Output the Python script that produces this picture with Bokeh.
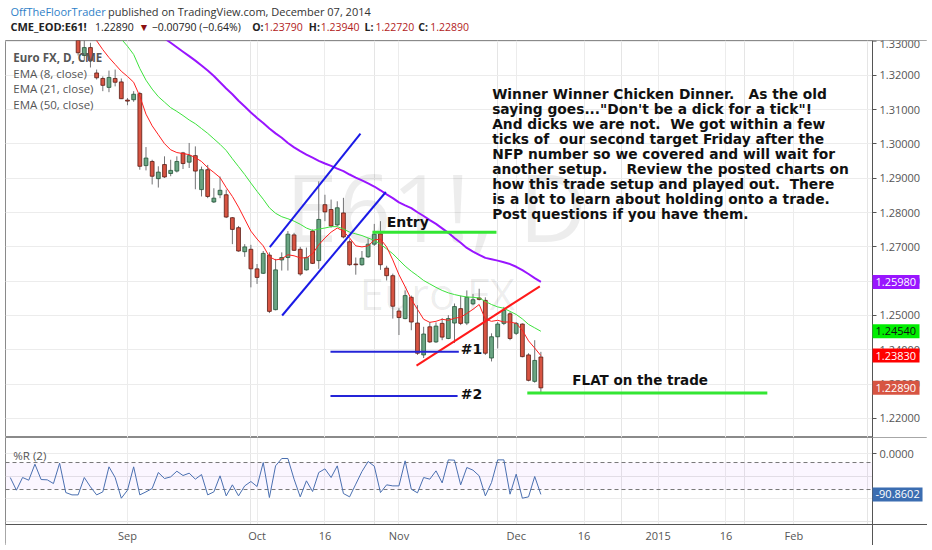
from bokeh.plotting import figure
from bokeh.models import Range1d, FixedTicker, Grid, ColumnDataSource, LinearAxis, NumeralTickFormatter
from bokeh.layouts import column
from bokeh.embed import file_html
from bokeh.resources import INLINE
from bokeh.core.properties import value

# ---------------- data ----------------
bar_index = list(range(-8, 68))
opens = [1.3330, 1.3258, 1.3281, 1.3207, 1.3191, 1.3165, 1.3191, 1.3181, 1.3128, 1.3129,
         1.3147, 1.2937, 1.2949, 1.2899, 1.2940, 1.2914, 1.2921, 1.2974, 1.2947, 1.2966,
         1.2867, 1.2925, 1.2831, 1.2852, 1.2852, 1.2785, 1.2756, 1.2686, 1.2693, 1.2636,
         1.2623, 1.2676, 1.2517, 1.2662, 1.2669, 1.2735, 1.2693, 1.2633, 1.2746, 1.2660,
         1.2823, 1.2809, 1.2764, 1.2799, 1.2715, 1.2650, 1.2648, 1.2671, 1.2708, 1.2738,
         1.2638, 1.2616, 1.2513, 1.2491, 1.2553, 1.2478, 1.2385, 1.2467, 1.2423, 1.2477,
         1.2433, 1.2478, 1.2520, 1.2478, 1.2534, 1.2551, 1.2544, 1.2376, 1.2438, 1.2477,
         1.2505, 1.2448, 1.2475, 1.2385, 1.2308, 1.2379]
highs = [1.3347, 1.3307, 1.3295, 1.3217, 1.3197, 1.3214, 1.3217, 1.3191, 1.3134, 1.3154,
         1.3152, 1.2991, 1.2954, 1.2935, 1.2964, 1.2954, 1.2964, 1.2977, 1.3003, 1.2993,
         1.2934, 1.2939, 1.2871, 1.2905, 1.2867, 1.2787, 1.2761, 1.2708, 1.2706, 1.2650,
         1.2688, 1.2684, 1.2665, 1.2684, 1.2746, 1.2741, 1.2700, 1.2698, 1.2751, 1.2891,
         1.2852, 1.2838, 1.2833, 1.2843, 1.2722, 1.2669, 1.2688, 1.2725, 1.2767, 1.2775,
         1.2645, 1.2622, 1.2521, 1.2573, 1.2558, 1.2530, 1.2467, 1.2481, 1.2480, 1.2492,
         1.2501, 1.2535, 1.2558, 1.2573, 1.2563, 1.2578, 1.2553, 1.2448, 1.2481, 1.2525,
         1.2510, 1.2481, 1.2477, 1.2390, 1.2428, 1.2394]
lows = [1.3258, 1.3243, 1.3223, 1.3188, 1.3154, 1.3151, 1.3168, 1.3131, 1.3113, 1.3123,
        1.2925, 1.2923, 1.2882, 1.2873, 1.2901, 1.2906, 1.2917, 1.2927, 1.2930, 1.2868,
        1.2847, 1.2842, 1.2828, 1.2842, 1.2784, 1.2708, 1.2686, 1.2671, 1.2582, 1.2592,
        1.2621, 1.2507, 1.2515, 1.2631, 1.2631, 1.2688, 1.2616, 1.2631, 1.2650, 1.2636,
        1.2775, 1.2756, 1.2761, 1.2725, 1.2645, 1.2619, 1.2645, 1.2668, 1.2703, 1.2633,
        1.2602, 1.2491, 1.2443, 1.2489, 1.2457, 1.2385, 1.2376, 1.2420, 1.2420, 1.2428,
        1.2431, 1.2420, 1.2472, 1.2472, 1.2530, 1.2544, 1.2385, 1.2366, 1.2404, 1.2472,
        1.2428, 1.2443, 1.2378, 1.2308, 1.2304, 1.2272]
closes = [1.3266, 1.3281, 1.3243, 1.3193, 1.3171, 1.3194, 1.3180, 1.3132, 1.3125, 1.3145,
          1.2935, 1.2959, 1.2906, 1.2918, 1.2904, 1.2923, 1.2949, 1.2943, 1.2966, 1.2921,
          1.2925, 1.2847, 1.2842, 1.2865, 1.2787, 1.2751, 1.2688, 1.2700, 1.2636, 1.2611,
          1.2681, 1.2512, 1.2633, 1.2669, 1.2737, 1.2690, 1.2621, 1.2669, 1.2652, 1.2780,
          1.2802, 1.2761, 1.2814, 1.2729, 1.2648, 1.2648, 1.2667, 1.2708, 1.2737, 1.2648,
          1.2616, 1.2527, 1.2494, 1.2558, 1.2481, 1.2390, 1.2446, 1.2423, 1.2469, 1.2437,
          1.2491, 1.2526, 1.2477, 1.2553, 1.2546, 1.2547, 1.2390, 1.2438, 1.2475, 1.2515,
          1.2433, 1.2477, 1.2380, 1.2311, 1.2369, 1.2289]

ema8 = [1.3370, 1.3345, 1.3322, 1.3301, 1.3275, 1.3252, 1.3232, 1.3212, 1.3197, 1.3180,
        1.3139, 1.3087, 1.3053, 1.3027, 1.3001, 1.2983, 1.2975, 1.2972, 1.2969, 1.2960,
        1.2949, 1.2931, 1.2917, 1.2902, 1.2873, 1.2847, 1.2816, 1.2781, 1.2746, 1.2723,
        1.2703, 1.2671, 1.2662, 1.2665, 1.2677, 1.2674, 1.2668, 1.2668, 1.2680, 1.2706,
        1.2726, 1.2743, 1.2755, 1.2746, 1.2726, 1.2703, 1.2700, 1.2703, 1.2720, 1.2723,
        1.2700, 1.2662, 1.2619, 1.2584, 1.2547, 1.2518, 1.2489, 1.2480, 1.2483, 1.2489,
        1.2486, 1.2492, 1.2495, 1.2506, 1.2518, 1.2532, 1.2489, 1.2483, 1.2486, 1.2481,
        1.2481, 1.2477, 1.2457, 1.2426, 1.2405, 1.2383]
ema21 = [1.3450, 1.3432, 1.3413, 1.3393, 1.3372, 1.3350, 1.3328, 1.3306, 1.3285, 1.3261,
         1.3220, 1.3186, 1.3160, 1.3138, 1.3122, 1.3106, 1.3095, 1.3083, 1.3070, 1.3059,
         1.3045, 1.3031, 1.3015, 1.2999, 1.2981, 1.2957, 1.2934, 1.2911, 1.2886, 1.2862,
         1.2839, 1.2814, 1.2798, 1.2788, 1.2782, 1.2775, 1.2766, 1.2755, 1.2748, 1.2752,
         1.2755, 1.2759, 1.2759, 1.2752, 1.2743, 1.2738, 1.2733, 1.2726, 1.2719, 1.2708,
         1.2694, 1.2680, 1.2662, 1.2644, 1.2629, 1.2616, 1.2602, 1.2592, 1.2582, 1.2573,
         1.2566, 1.2561, 1.2557, 1.2554, 1.2553, 1.2551, 1.2541, 1.2532, 1.2525, 1.2521,
         1.2512, 1.2503, 1.2490, 1.2474, 1.2464, 1.2454]
ema50 = [1.3440, 1.3432, 1.3424, 1.3416, 1.3407, 1.3398, 1.3390, 1.3382, 1.3375, 1.3368,
         1.3358, 1.3346, 1.3334, 1.3321, 1.3308, 1.3295, 1.3282, 1.3269, 1.3256, 1.3243,
         1.3229, 1.3214, 1.3198, 1.3180, 1.3162, 1.3145, 1.3126, 1.3109, 1.3092, 1.3076,
         1.3061, 1.3045, 1.3031, 1.3018, 1.3003, 1.2990, 1.2979, 1.2969, 1.2960, 1.2951,
         1.2943, 1.2936, 1.2928, 1.2921, 1.2911, 1.2902, 1.2894, 1.2885, 1.2876, 1.2865,
         1.2853, 1.2842, 1.2830, 1.2821, 1.2813, 1.2801, 1.2790, 1.2778, 1.2767, 1.2754,
         1.2741, 1.2726, 1.2712, 1.2697, 1.2686, 1.2677, 1.2668, 1.2664, 1.2660, 1.2655,
         1.2650, 1.2642, 1.2632, 1.2621, 1.2609, 1.2598]

wr_index = list(range(-19, 68))
wr_values = [-53.3, -81.5, -53.3, -59.3, -23.7, -57.8, -58.5, -66.7, -21.5, -86.7,
             -91.9, -91.9, -53.3, -74.1, -91.9, -85.2, -29.6, -53.3, -99.3, -81.5,
             -29.6, -91.9, -85.2, -77.8, -42.2, -55.6, -51.9, -39.3, -48.9, -43.7,
             -57.0, -46.7, -91.9, -85.2, -49.6, -94.1, -69.6, -94.1, -71.9, -62.2,
             -73.3, -20.0, -97.8, -27.4, -11.1, -11.1, -57.0, -96.3, -60.7, -84.4,
             -42.2, -34.1, -53.3, -27.4, -88.9, -96.3, -68.1, -40.0, -17.8, -28.1,
             -86.7, -69.6, -71.9, -71.9, -16.3, -79.3, -87.4, -53.3, -57.0, -38.5,
             -65.2, -14.1, -14.8, -69.6, -31.1, -37.0, -49.6, -94.1, -64.4, -14.1,
             -14.1, -90.4, -45.9, -99.3, -96.3, -51.1, -90.8602]

date_ticks = [0, 21, 32, 44, 63, 74, 86, 97, 108]
date_labels = ["Sep", "Oct", "16", "Nov", "Dec", "16", "2015", "16", "Feb"]
price_ticks = [1.22, 1.23, 1.24, 1.25, 1.26, 1.27, 1.28, 1.29, 1.30, 1.31, 1.32]
top_tick = 1.33
wr_ticks = [0, -100]
wr_levels = [-20, -80]

# drawings (bar index, price)
channel_upper_x = [23.06, 37.76]; channel_upper_y = [1.2699, 1.3030]
channel_lower_x = [25.07, 41.87]; channel_lower_y = [1.2500, 1.2860]
trend_x = [46.84, 66.83]; trend_y = [1.2354, 1.2585]
target1_x = [32.9, 53.7]; target1_y = [1.2394, 1.2394]
target2_x = [32.9, 53.5]; target2_y = [1.2265, 1.2265]
entry_x = [39.7, 59.8]; entry_y = [1.2743, 1.2743]
flat_x = [64.8, 103.7]; flat_y = [1.2274, 1.2274]

NB = "\u00a0"
note_lines = [
    "Winner Winner Chicken Dinner." + NB * 3 + "As the old",
    "saying goes...\"Don't be a dick for a tick\"!",
    "And dicks we are not." + NB * 2 + "We got within a few",
    "ticks of" + NB * 2 + "our second target Friday after the",
    "NFP number so we covered and will wait for",
    "another setup." + NB * 4 + "Review the posted charts on",
    "how this trade setup and played out." + NB * 2 + "There",
    "is a lot to learn about holding onto a trade.",
    "Post questions if you have them.",
]

last_names = ["ema50", "ema21", "ema8", "close"]
last_values = [1.2598, 1.2454, 1.2383, 1.2289]
last_bg = ["#9915ff", "#00ee00", "#ff0000", "#d75442"]
last_fg = ["white", "#111111", "white", "white"]

# ---------------- styling ----------------
W = 927
X0, XR = -19.77, 129.66      # frame spans page x 5..927
X_AX = 120.75                # price scale line (page x 872)
Y0, Y1 = 1.21443, 1.33017
WR0, WR1 = -204.4, 35.6
WR_AXIS = -157.8
AXIS_C = "#555555"
GRID_C = "#ececec"
UP_FILL, UP_LINE = "#6ba583", "#225437"
DN_FILL, DN_LINE = "#d75442", "#5b1a13"
PX = 6.17                    # pixels per bar
PY = 3430                    # pixels per price unit


def style_axis(ax, fmt=None):
    ax.major_label_text_font_size = "11px"
    ax.major_label_text_color = AXIS_C
    ax.major_label_text_font = "Open Sans"
    ax.major_tick_in = 0
    ax.minor_tick_out = 0
    ax.minor_tick_in = 0
    ax.axis_line_color = AXIS_C
    ax.major_tick_line_color = AXIS_C
    if fmt:
        ax.formatter = NumeralTickFormatter(format=fmt)


# ---------------- header ----------------
HDR_H = 37
hdr = figure(width=W, height=HDR_H, x_range=Range1d(0, W), y_range=Range1d(HDR_H, 0),
             output_backend="svg", toolbar_location=None,
             x_axis_location=None, y_axis_location=None, min_border=0,
             outline_line_color=None, background_fill_color="white", border_fill_color="white")
hdr.grid.visible = False
segs = [
    (5, 11, "OffTheFloorTrader", "#2f7fc8", "normal", "11px"),
    (103, 11, "published on TradingView.com, December 07, 2014", "#333333", "normal", "11px"),
    (5, 26, "CME_EOD:E61!", "#222222", "bold", "11px"),
    (90, 26, "1.22890", "#222222", "normal", "10.5px"),
    (134, 26, "\u25bc", "#8b1010", "normal", "10.5px"),
    (147, 26, "\u22120.00790 (\u22120.64%)", "#222222", "normal", "10.5px"),
    (248, 26, "O:", "#222222", "bold", "10.5px"),
    (260, 26, "1.23790", "#b22222", "normal", "10.5px"),
    (305, 26, "H:", "#222222", "bold", "10.5px"),
    (317, 26, "1.23940", "#b22222", "normal", "10.5px"),
    (361, 26, "L:", "#222222", "bold", "10.5px"),
    (372, 26, "1.22720", "#b22222", "normal", "10.5px"),
    (415, 26, "C:", "#222222", "bold", "10.5px"),
    (427, 26, "1.22890", "#b22222", "normal", "10.5px"),
]
for sx, sy, st, sc, sw, fs in segs:
    hdr.text(x=[sx], y=[sy], text=[st], text_font=value("Open Sans"), text_font_size=fs,
             text_color=sc, text_font_style=sw, text_baseline="middle", text_align="left")

# ---------------- price panel ----------------
price = figure(width=W, height=400, x_range=Range1d(X0, XR), y_range=Range1d(Y0, Y1),
               output_backend="svg", toolbar_location=None,
               x_axis_location=None, y_axis_location=None,
               min_border_left=5, min_border_right=0, min_border_top=3, min_border_bottom=0,
               outline_line_color="#8a8a8a", background_fill_color="white", border_fill_color="white")
price.add_layout(Grid(dimension=0, ticker=FixedTicker(ticks=date_ticks), grid_line_color=GRID_C))
price.add_layout(Grid(dimension=1, ticker=FixedTicker(ticks=price_ticks + [top_tick]),
                      grid_line_color=GRID_C))
# plain background behind the price scale
price.quad(left=[X_AX], right=[XR], bottom=[Y0], top=[Y1], fill_color="white", line_color=None)

pax = LinearAxis(fixed_location=X_AX, ticker=FixedTicker(ticks=price_ticks))
style_axis(pax, "0.00000")
pax.major_tick_out = 4
pax.major_label_standoff = 3
price.add_layout(pax, "right")
# topmost scale label, nudged inside the frame so it is not clipped
price.segment(x0=[X_AX], y0=[top_tick], x1=[X_AX + 4 / PX], y1=[top_tick], line_color=AXIS_C)
price.text(x=[X_AX + 7 / PX], y=[top_tick - 2.5 / PY], text=["%.5f" % top_tick],
           text_font=value("Open Sans"), text_font_size="11px", text_color=AXIS_C,
           text_baseline="middle", text_align="left")

# watermark
price.text(x=[25.6], y=[1.2818], text=["E61!, D"], text_font=value("Open Sans"),
           text_font_size="94px", text_color="#000000", text_alpha=0.07,
           text_baseline="middle", text_align="left")
price.text(x=[37.6], y=[1.2567], text=["Euro FX"], text_font=value("Open Sans"),
           text_font_size="44px", text_color="#000000", text_alpha=0.07,
           text_baseline="middle", text_align="left")

up = [c >= o for o, c in zip(opens, closes)]
src = ColumnDataSource(dict(
    i=bar_index, h=highs, l=lows,
    top=[max(o, c) for o, c in zip(opens, closes)],
    bottom=[min(o, c) for o, c in zip(opens, closes)],
    fill=[UP_FILL if u else DN_FILL for u in up],
    line=[UP_LINE if u else DN_LINE for u in up],
))
price.segment(x0="i", y0="h", x1="i", y1="l", source=src, line_color="#737375", line_width=1)
price.vbar(x="i", width=0.62, top="top", bottom="bottom", fill_color="fill",
           line_color="line", line_width=0.8, source=src)

price.line(bar_index, ema50, line_color="#9915ff", line_width=2)
price.line(bar_index, ema21, line_color="#3de23d", line_width=1)
price.line(bar_index, ema8, line_color="#ff2020", line_width=1)

# drawings
price.line(channel_upper_x, channel_upper_y, line_color="#1a1ae6", line_width=2)
price.line(channel_lower_x, channel_lower_y, line_color="#1a1ae6", line_width=2)
price.line(trend_x, trend_y, line_color="#ff1a1a", line_width=2)
price.line(target1_x, target1_y, line_color="#2424d8", line_width=2)
price.line(target2_x, target2_y, line_color="#2424d8", line_width=2)
price.line(entry_x, entry_y, line_color="#33e633", line_width=3)
price.line(flat_x, flat_y, line_color="#33e633", line_width=3)

TXT = dict(text_font=value("DejaVu Sans"), text_font_style="bold", text_color="#111111",
           text_baseline="middle", text_align="left")
price.text(x=[42.0], y=[1.2774], text=["Entry"], text_font_size="14px", **TXT)
price.text(x=[54.0], y=[1.2401], text=["#1"], text_font_size="14px", **TXT)
price.text(x=[54.0], y=[1.2270], text=["#2"], text_font_size="14px", **TXT)
price.text(x=[72.1], y=[1.2311], text=["FLAT on the trade"], text_font_size="13.5px", **TXT)

note_top, note_step = 1.31464, 0.004373
price.text(x=[59.1] * len(note_lines), y=[note_top - k * note_step for k in range(len(note_lines))],
           text=note_lines, text_font_size="13.8px", **TXT)

# legend
LEG = dict(text_font=value("Open Sans"), text_color="#555555", text_baseline="middle",
           text_align="left", text_font_size="11.5px")
price.text(x=[-18.5], y=[1.3252], text=["Euro FX, D, CME"], text_font_style="bold", **LEG)
price.text(x=[-18.5] * 3, y=[1.3206, 1.3162, 1.3115],
           text=["EMA (8, close)", "EMA (21, close)", "EMA (50, close)"], **LEG)

# last value boxes on the price scale
box_w = 47 / PX
box_h = 14 / PY
price.rect(x=[X_AX + box_w / 2] * 4, y=last_values, width=box_w, height=box_h,
           fill_color=last_bg, line_color=None, level="overlay")
price.text(x=[X_AX + 3 / PX] * 4, y=last_values, text=["%.5f" % v for v in last_values],
           text_color=last_fg, text_font=value("Open Sans"), text_font_size="11px",
           text_baseline="middle", text_align="left", level="overlay")

# ---------------- %R panel ----------------
wr = figure(width=W, height=108, x_range=price.x_range, y_range=Range1d(WR0, WR1),
            output_backend="svg", toolbar_location=None,
            x_axis_location=None, y_axis_location=None,
            min_border_left=5, min_border_right=0, min_border_top=0, min_border_bottom=0,
            outline_line_color="#8a8a8a", background_fill_color="white", border_fill_color="white")
wr.add_layout(Grid(dimension=0, ticker=FixedTicker(ticks=date_ticks), grid_line_color=GRID_C))
wr.add_layout(Grid(dimension=1, ticker=FixedTicker(ticks=wr_ticks), grid_line_color=GRID_C))
wr.quad(left=[X_AX, X0], right=[XR, XR], bottom=[WR0, WR0], top=[WR1, WR_AXIS],
        fill_color="white", line_color=None)

wr.quad(left=[X0], right=[X_AX], bottom=[wr_levels[1]], top=[wr_levels[0]],
        fill_color="#9915ff", fill_alpha=0.04, line_color=None)
wr.segment(x0=[X0] * 2, y0=wr_levels, x1=[X_AX] * 2, y1=wr_levels,
           line_color="#777777", line_dash="4 3", line_width=1)
wr.line(wr_index, wr_values, line_color="#4a6fb0", line_width=1)
wr.text(x=[-18.5], y=[-4.0], text=["%R (2)"], **LEG)

xax = LinearAxis(fixed_location=WR_AXIS, ticker=FixedTicker(ticks=date_ticks))
style_axis(xax)
xax.major_label_overrides = {t: lab for t, lab in zip(date_ticks, date_labels)}
xax.major_tick_out = 0
xax.major_label_standoff = 3
wr.add_layout(xax, "below")

wax = LinearAxis(fixed_location=X_AX, ticker=FixedTicker(ticks=wr_ticks))
style_axis(wax, "0.0000")
wax.major_label_overrides = {-100: ""}
wax.major_tick_out = 4
wax.major_label_standoff = 3
wr.add_layout(wax, "right")

wr.rect(x=[X_AX + 50 / PX / 2], y=[wr_values[-1]], width=50 / PX, height=14 / 0.45,
        fill_color="#3b6db1", line_color=None, level="overlay")
wr.text(x=[X_AX + 3 / PX], y=[wr_values[-1]], text=["%.4f" % wr_values[-1]],
        text_color="white", text_font=value("Open Sans"), text_font_size="11px",
        text_baseline="middle", text_align="left", level="overlay")

layout = column(hdr, price, wr, spacing=0)
open("out.html", "w").write(file_html(layout, INLINE))
